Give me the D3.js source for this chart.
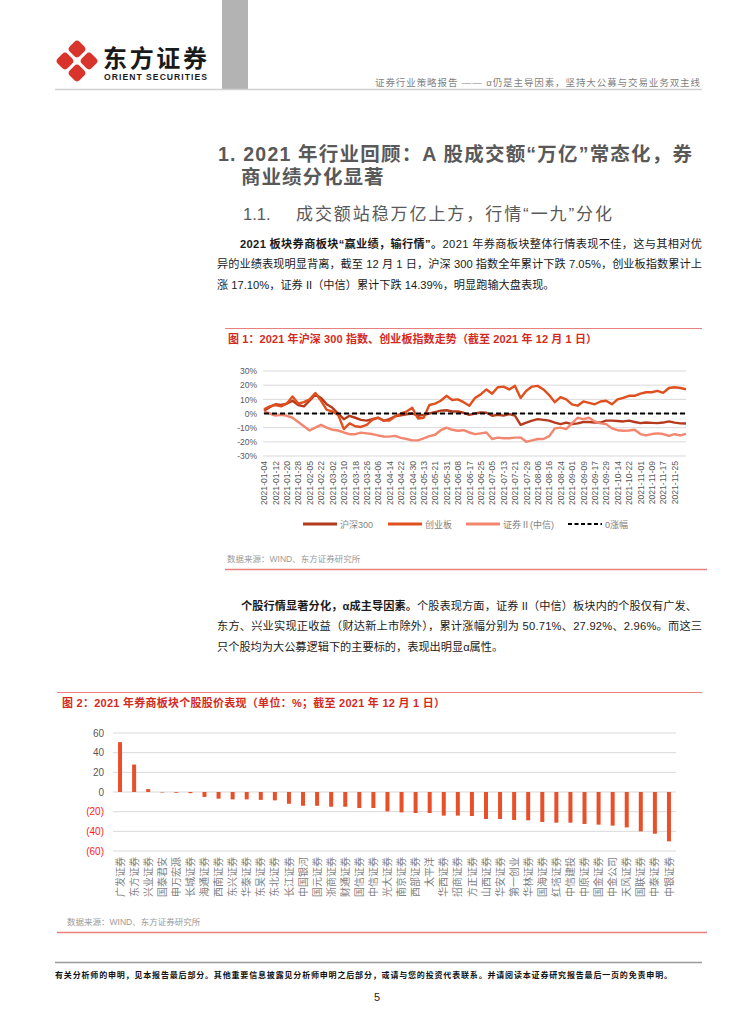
<!DOCTYPE html>
<html><head><meta charset="utf-8">
<script src="https://cdn.jsdelivr.net/npm/d3@7"></script>
<style>body{margin:0;background:#fff}</style>
</head><body><svg id="page" width="754" height="1024"></svg>
<script>
const FONT = "'Liberation Sans','Noto Sans CJK SC',sans-serif";

// ---------- Chart 1 data (sampled every 3 trading days) ----------
const tickDates = ["2021-01-04","2021-01-12","2021-01-20","2021-01-28","2021-02-05","2021-02-22","2021-03-02","2021-03-10","2021-03-18","2021-03-26","2021-04-06","2021-04-14","2021-04-22","2021-04-30","2021-05-13","2021-05-21","2021-05-31","2021-06-08","2021-06-17","2021-06-25","2021-07-05","2021-07-13","2021-07-21","2021-07-29","2021-08-06","2021-08-16","2021-08-24","2021-09-01","2021-09-09","2021-09-17","2021-09-29","2021-10-14","2021-10-22","2021-11-01","2021-11-09","2021-11-17","2021-11-25"];
const hs300 = [2,4.5,6.5,6,7,9,6,5,9,13.5,11,6.5,4,0,-4,-1.6,-3,-4.5,-5,-4,-3,-5,-4,-2,-1.2,-0.5,0,-1.6,-1,0,1,2,2.3,1.4,1.4,0.5,-1,0,0.7,0.5,-1.6,-1,-1.5,-0.5,-1.5,-8,-6.4,-5,-4,-4.5,-5,-6.4,-7.5,-6.4,-7.5,-7,-6,-6,-6.4,-6.4,-5,-5,-5.3,-5.6,-5,-6,-6.8,-6.4,-6.6,-6.8,-6.4,-5.6,-6.4,-7,-7.05];
const cyb = [3,5,6,5,7,12,7,8,10,14.5,9,2.5,1.5,-1,-11,-7,-9,-9.5,-8,-4.5,-3,-5,-5,-2,0,1.4,4,-3.5,-3,6,7,9,12.5,9.5,10,8,5.5,11,13.5,17,14,18.5,19,17,19.5,11,16,19,19.5,17,13,8,11.5,10,6.5,5.5,8.5,7.5,6.5,8.5,9,6.5,10,11,12.5,12.5,14,15,15,16,14.5,18,18.5,18,17.1];
const zq2 = [1.4,0,-1.5,-1,-1.6,-3,-6,-9,-12,-10,-8,-10,-11.5,-12,-13.4,-14.6,-14.6,-13.5,-14,-14.5,-15.5,-16.2,-16.3,-15.8,-17.2,-18,-19,-19,-17.5,-16,-15,-11.8,-10,-11.5,-12.2,-11.8,-13.4,-14.6,-14,-13.4,-18,-17,-17.5,-17.5,-17,-17,-20,-19,-18,-18,-16,-10.5,-10,-11,-7,-3,-4,-3,-5.6,-7,-7.5,-10.5,-11.8,-12.2,-12,-11.5,-14.5,-15.5,-14.5,-14,-14.5,-15.8,-14.6,-15.5,-14.39];
const seriesNames = ["沪深300","创业板","证券Ⅱ(中信)","0涨幅"];
const seriesColors = ["#B63B1E","#E0501F","#F2866F","#000000"];
const yTicks1 = [-30,-20,-10,0,10,20,30];

// ---------- Chart 2 data ----------
const stocks = ["广发证券","东方证券","兴业证券","国泰君安","申万宏源","长城证券","海通证券","西南证券","东兴证券","华泰证券","东吴证券","东北证券","长江证券","中国银河","国元证券","浙商证券","财通证券","国信证券","中信证券","光大证券","南京证券","西部证券","太平洋","华西证券","招商证券","方正证券","山西证券","华安证券","第一创业","华林证券","国海证券","红塔证券","中信建投","中原证券","国金证券","中金公司","天风证券","国联证券","中泰证券","中银证券"];
const returns = [50.71,27.92,2.96,-0.5,-0.8,-1.2,-5,-6.8,-7.5,-7.5,-8,-8.5,-12,-14,-14,-15,-15,-16.3,-16.3,-19.7,-20.7,-21.4,-21.4,-24,-24,-24.4,-27.5,-27.5,-28.5,-28.8,-30.5,-31.2,-31.2,-32.5,-33.2,-34.2,-36,-40,-42.4,-50.2];
const yTicks2 = [-60,-40,-20,0,20,40,60];

const svg = d3.select("#page").attr("font-family", FONT);
svg.append("rect").attr("width",754).attr("height",1024).attr("fill","#fff");

function fit(sel, target){
  const node = sel.node();
  const w = node.getComputedTextLength();
  const n = node.textContent.length;
  if (n > 1) sel.attr("letter-spacing", (target - w) / (n - 1));
  return sel;
}

// ---------- Header ----------
svg.append("rect").attr("x",222).attr("y",0).attr("width",26).attr("height",89).attr("fill","#b3b3b3");
const logo = svg.append("g").attr("transform","translate(77,61) rotate(45)");
[[-8.5,-8.5],[8.5,-8.5],[-8.5,8.5],[8.5,8.5]].forEach(([dx,dy])=>{
  logo.append("rect").attr("x",dx-7).attr("y",dy-7).attr("width",14).attr("height",14)
    .attr("rx",4).attr("fill","#D9342B");
});
fit(svg.append("text").attr("x",103).attr("y",67).attr("font-size",24).attr("font-weight","bold")
  .attr("fill","#1a1a1a").attr("font-family","'Noto Sans CJK SC',sans-serif").text("东方证券"),104);
fit(svg.append("text").attr("x",104).attr("y",80).attr("font-size",8.6).attr("font-weight","bold")
  .attr("fill","#1a1a1a").text("ORIENT SECURITIES"),103);
const hdr = svg.append("text").attr("x",375).attr("y",86).attr("font-size",9.5).attr("fill","#7f7f7f")
  .text("证券行业策略报告 —— α仍是主导因素，坚持大公募与交易业务双主线");
fit(hdr, 325);
svg.append("line").attr("x1",55).attr("x2",702).attr("y1",89.5).attr("y2",89.5).attr("stroke","#d0d0d0").attr("stroke-width",1.5);

// ---------- Section titles ----------
fit(svg.append("text").attr("x",218).attr("y",161).attr("font-size",19.5).attr("font-weight","bold").attr("fill","#595959")
  .text("1. 2021 年行业回顾：A 股成交额“万亿”常态化，券"),474);
svg.append("text").attr("x",241).attr("y",184).attr("font-size",19.5).attr("font-weight","bold").attr("fill","#595959")
  .attr("letter-spacing",1).text("商业绩分化显著");
svg.append("text").attr("x",243).attr("y",220).attr("font-size",16.5).attr("fill","#595959").text("1.1.");
fit(svg.append("text").attr("x",296).attr("y",220).attr("font-size",17).attr("fill","#595959")
  .text("成交额站稳万亿上方，行情“一九”分化"),316);

// ---------- Paragraph helper ----------
function para(x, y, boldPart, normalPart, target){
  const t = svg.append("text").attr("x",x).attr("y",y).attr("font-size",11.2).attr("fill","#1a1a1a");
  if (boldPart) t.append("tspan").attr("font-weight","bold").text(boldPart);
  t.append("tspan").text(normalPart);
  if (target) fit(t, target);
  return t;
}
para(240,248,"2021 板块券商板块“赢业绩，输行情”。","2021 年券商板块整体行情表现不佳，这与其相对优",462);
para(217,268,null,"异的业绩表现明显背离，截至 12 月 1 日，沪深 300 指数全年累计下跌 7.05%，创业板指数累计上",485);
para(217,289,null,"涨 17.10%，证券 II（中信）累计下跌 14.39%，明显跑输大盘表现。",null);

para(241,610,"个股行情显著分化，α成主导因素。","个股表现方面，证券 II（中信）板块内的个股仅有广发、",456);
para(217,630,null,"东方、兴业实现正收益（财达新上市除外），累计涨幅分别为 50.71%、27.92%、2.96%。而这三",485);
para(217,651,null,"只个股均为大公募逻辑下的主要标的，表现出明显α属性。",null);

// ---------- Chart 1 ----------
svg.append("line").attr("x1",225).attr("x2",702).attr("y1",328.5).attr("y2",328.5).attr("stroke","#E88080").attr("stroke-width",1.2);
fit(svg.append("text").attr("x",228).attr("y",343).attr("font-size",11).attr("font-weight","bold").attr("fill","#D42A1E")
  .text("图 1：2021 年沪深 300 指数、创业板指数走势（截至 2021 年 12 月 1 日）"),369);

const x1 = d3.scaleLinear().domain([0, hs300.length-1]).range([264, 686]);
const y1 = d3.scaleLinear().domain([-30,30]).range([456,371]);
const g1 = svg.append("g");
g1.selectAll("line.grid").data(yTicks1).join("line").attr("class","grid")
  .attr("x1",263).attr("x2",686).attr("y1",d=>y1(d)).attr("y2",d=>y1(d))
  .attr("stroke","#d9d9d9").attr("stroke-width",1);
const ax1 = g1.append("g").attr("transform","translate(259,0)")
  .call(d3.axisLeft(y1).tickValues(yTicks1).tickSize(0).tickFormat(d=>d+"%"));
ax1.select(".domain").remove();
ax1.selectAll("text").attr("font-family",FONT).attr("font-size",8.5).attr("fill","#595959").attr("x",-2);

const xa1 = g1.append("g").attr("transform","translate(0,461)")
  .call(d3.axisBottom(x1).tickValues(d3.range(0, tickDates.length*2, 2)).tickSize(0).tickFormat(i=>tickDates[i/2]));
xa1.select(".domain").remove();
xa1.selectAll("text").attr("font-family",FONT).attr("font-size",8.6).attr("fill","#595959")
  .attr("transform","rotate(-90)").attr("text-anchor","end").attr("x",0).attr("y",0).attr("dy","0.32em").attr("dx",0);

const line1 = d3.line().x((d,i)=>x1(i)).y(d=>y1(d));
[hs300, cyb, zq2].forEach((s,k)=>{
  g1.append("path").datum(s).attr("d",line1).attr("fill","none")
    .attr("stroke",seriesColors[k]).attr("stroke-width",2.4).attr("stroke-linejoin","round");
});
g1.append("line").attr("x1",x1(0)).attr("x2",x1(hs300.length-1)).attr("y1",y1(0)).attr("y2",y1(0))
  .attr("stroke","#000").attr("stroke-width",2).attr("stroke-dasharray","5,3");

// legend
const legX = [303,388,466,568];
seriesNames.forEach((n,k)=>{
  const lg = svg.append("g");
  lg.append("line").attr("x1",legX[k]).attr("x2",legX[k]+34).attr("y1",524).attr("y2",524)
    .attr("stroke",seriesColors[k]).attr("stroke-width",k===3?2:3)
    .attr("stroke-dasharray",k===3?"4,2.5":null);
  lg.append("text").attr("x",legX[k]+37).attr("y",527.5).attr("font-size",9).attr("fill","#7f7f7f").text(n);
});
svg.append("text").attr("x",227).attr("y",562).attr("font-size",8.5).attr("fill","#9a9a9a").text("数据来源：WIND、东方证券研究所");
svg.append("line").attr("x1",225).attr("x2",707).attr("y1",569.5).attr("y2",569.5).attr("stroke","#E88080").attr("stroke-width",1.5);

// ---------- Chart 2 ----------
svg.append("line").attr("x1",57).attr("x2",702).attr("y1",692.5).attr("y2",692.5).attr("stroke","#E88080").attr("stroke-width",1.2);
fit(svg.append("text").attr("x",62).attr("y",707).attr("font-size",11).attr("font-weight","bold").attr("fill","#D42A1E")
  .text("图 2：2021 年券商板块个股股价表现（单位：%；截至 2021 年 12 月 1 日）"),383);

const x2 = d3.scaleBand().domain(stocks).range([113,676]).padding(0);
const y2 = d3.scaleLinear().domain([-60,60]).range([851,733]);
const g2 = svg.append("g");
g2.selectAll("line.grid").data(yTicks2).join("line").attr("class","grid")
  .attr("x1",113).attr("x2",676).attr("y1",d=>y2(d)).attr("y2",d=>y2(d))
  .attr("stroke","#d9d9d9").attr("stroke-width",1);
const ax2 = g2.append("g").attr("transform","translate(106,0)")
  .call(d3.axisLeft(y2).tickValues(yTicks2).tickSize(0).tickFormat(d=>d<0?`(${-d})`:d));
ax2.select(".domain").remove();
ax2.selectAll("text").attr("font-family",FONT).attr("font-size",10).attr("x",-2)
  .attr("fill",d=>d<0?"#FF1A1A":"#595959");

g2.selectAll("rect.bar").data(returns).join("rect").attr("class","bar")
  .attr("x",(d,i)=>x2(stocks[i])+x2.bandwidth()/2-2).attr("width",4)
  .attr("y",d=>y2(Math.max(0,d))).attr("height",d=>Math.abs(y2(d)-y2(0)))
  .attr("fill","#E8502A");

const xa2 = g2.append("g").attr("transform","translate(0,857)")
  .call(d3.axisBottom(x2).tickSize(0));
xa2.select(".domain").remove();
xa2.selectAll("text").attr("font-family",FONT).attr("font-size",10).attr("fill","#7f7f7f")
  .attr("transform","rotate(-90)").attr("text-anchor","end").attr("x",0).attr("y",0).attr("dy","0.36em");

svg.append("text").attr("x",67).attr("y",925).attr("font-size",8.5).attr("fill","#9a9a9a").text("数据来源：WIND、东方证券研究所");
svg.append("line").attr("x1",57).attr("x2",707).attr("y1",932.5).attr("y2",932.5).attr("stroke","#E88080").attr("stroke-width",1.5);

// ---------- Footer ----------
svg.append("line").attr("x1",55).attr("x2",702).attr("y1",962.5).attr("y2",962.5).attr("stroke","#9a9a9a").attr("stroke-width",1.5);
fit(svg.append("text").attr("x",55).attr("y",977.5).attr("font-size",8).attr("font-weight","bold").attr("fill","#111")
  .text("有关分析师的申明，见本报告最后部分。其他重要信息披露见分析师申明之后部分，或请与您的投资代表联系。并请阅读本证券研究报告最后一页的免责申明。"),617);
svg.append("text").attr("x",377).attr("y",1001).attr("font-size",11).attr("text-anchor","middle").attr("fill","#222").text("5");
</script></body></html>
